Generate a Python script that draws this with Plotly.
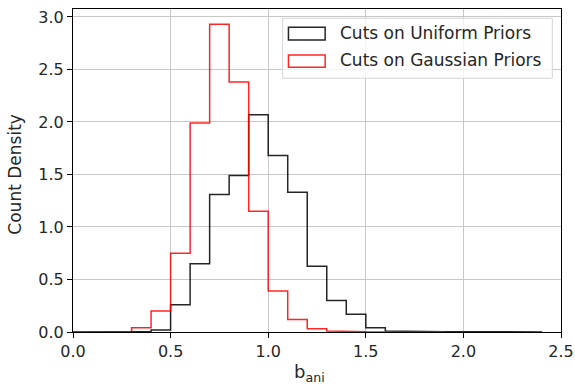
import numpy as np
import plotly.graph_objects as go

bin_edges = [round(0.1 * i, 1) for i in range(25)]  # 0.0 .. 2.4
uniform_density = [0, 0, 0, 0.005, 0.02, 0.26, 0.65, 1.31, 1.49, 2.07, 1.68, 1.33,
                   0.625, 0.30, 0.17, 0.04, 0.01, 0.004, 0.003, 0.002, 0.002, 0.002,
                   0.001, 0.001]
gaussian_density = [0, 0, 0, 0.04, 0.20, 0.75, 1.99, 2.93, 2.38, 1.15, 0.39, 0.12,
                    0.03, 0.01, 0.003, 0.002, 0.002, 0.001, 0.001]

series_names = ["Cuts on Uniform Priors", "Cuts on Gaussian Priors"]
series_colors = ["black", "red"]
x_ticks = [0, 0.5, 1.0, 1.5, 2.0, 2.5]
y_ticks = [0, 0.5, 1.0, 1.5, 2.0, 2.5, 3.0]


def step_path(edges, vals):
    xs, ys = [edges[0]], [0.0]
    for i, v in enumerate(vals):
        xs += [edges[i], edges[i + 1]]
        ys += [v, v]
    xs.append(edges[len(vals)])
    ys.append(0.0)
    return xs, ys


fig = go.Figure()
for name, vals, col in zip(series_names, [uniform_density, gaussian_density], series_colors):
    xs, ys = step_path(bin_edges, vals)
    fig.add_trace(go.Scatter(x=xs, y=ys, mode="lines", name=name,
                             line=dict(color=col, width=1.5), opacity=0.85,
                             showlegend=False))

font = "DejaVu Sans"
txt = "#262626"

# manual matplotlib-style legend (paper coordinates)
shapes = [dict(type="rect", xref="paper", yref="paper", x0=0.4296, x1=0.9822,
               y0=0.7857, y1=0.9714, line=dict(color="#d5d5d5", width=1),
               fillcolor="rgba(255,255,255,0.8)", layer="above")]
annotations = []
row_rects = [(0.9041, 0.9434), (0.8196, 0.8577)]
row_text_y = [0.9248, 0.8423]
for (ya, yb), ty, name, col in zip(row_rects, row_text_y, series_names, series_colors):
    shapes.append(dict(type="rect", xref="paper", yref="paper", x0=0.4415, x1=0.5167,
                       y0=ya, y1=yb, line=dict(color=col, width=1.5), opacity=0.85,
                       fillcolor="rgba(0,0,0,0)", layer="above"))
    annotations.append(dict(xref="paper", yref="paper", x=0.5439, y=ty, xanchor="left",
                            yanchor="middle", text=name, showarrow=False,
                            font=dict(family=font, size=17, color=txt)))

# axis titles
annotations.append(dict(xref="paper", yref="paper", x=0.484, y=-0.128, xanchor="center",
                        yanchor="middle", text="b<sub>ani</sub>", showarrow=False,
                        font=dict(family=font, size=18, color=txt)))
annotations.append(dict(xref="paper", yref="paper", x=-0.119, y=0.49, xanchor="center",
                        yanchor="middle", text="Count Density", textangle=-90,
                        showarrow=False, font=dict(family=font, size=17, color=txt)))

fig.update_layout(
    width=575, height=390,
    margin=dict(l=73, r=14, t=9, b=58, autoexpand=False),
    paper_bgcolor="white", plot_bgcolor="white",
    font=dict(family=font, size=16, color=txt),
    showlegend=False,
    shapes=shapes, annotations=annotations,
    xaxis=dict(range=[0, 2.5], tickvals=x_ticks,
               ticktext=[f"{v:.1f}" for v in x_ticks], automargin=False,
               showgrid=True, gridcolor="#c8c8c8", gridwidth=1,
               showline=True, linecolor="black", linewidth=1, mirror=True,
               ticks="outside", ticklen=5, tickcolor="black", zeroline=False,
               tickfont=dict(size=16, color=txt)),
    yaxis=dict(range=[0, 3.076], tickvals=y_ticks,
               ticktext=[f"{v:.1f}" for v in y_ticks], automargin=False,
               showgrid=True, gridcolor="#c8c8c8", gridwidth=1,
               showline=True, linecolor="black", linewidth=1, mirror=True,
               ticks="outside", ticklen=5, tickcolor="black", zeroline=False,
               tickfont=dict(size=16, color=txt)),
)

fig.write_html("out.html", config={"displayModeBar": False},
               post_script="document.body.style.margin='0';document.body.style.overflow='hidden';")
